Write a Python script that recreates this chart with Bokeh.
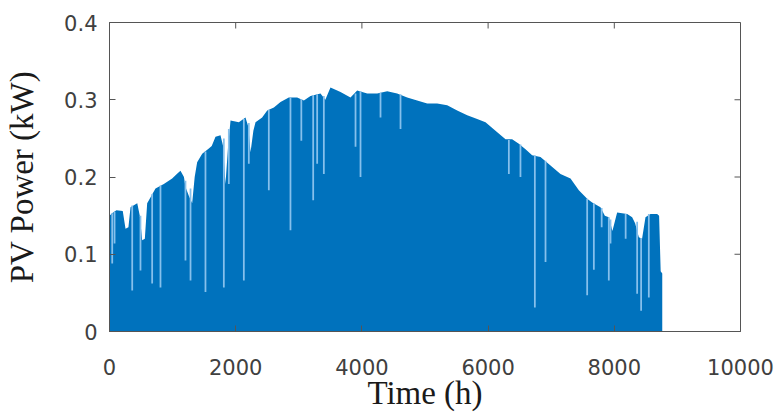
import math
from bokeh.plotting import figure
from bokeh.models import Range1d, FixedTicker, NumeralTickFormatter, ColumnDataSource
from bokeh.embed import file_html
from bokeh.resources import INLINE

# Envelope of hourly PV power (upper contour of the dense bars)
env_hours = [0, 40, 110, 210, 254, 300, 333, 440, 480, 518, 560, 597, 660, 729, 861, 993,
             1080, 1125, 1180, 1204, 1260, 1310, 1350, 1389, 1469, 1574, 1620, 1680, 1759,
             1800, 1838, 1880, 1918, 2050, 2155, 2200, 2235, 2280, 2314, 2419, 2499, 2605,
             2710, 2842, 2974, 3080, 3185, 3344, 3420, 3502, 3661, 3819, 3925, 4084, 4242,
             4401, 4559, 4718, 4876, 5035, 5193, 5352, 5510, 5669, 5827, 5959, 6117, 6276,
             6381, 6487, 6593, 6698, 6830, 6989, 7147, 7306, 7438, 7570, 7649, 7781, 7850,
             7913, 7970, 8045, 8204, 8283, 8330, 8389, 8440, 8494, 8573, 8679, 8710, 8735, 8760]
env_kw = [0.150, 0.153, 0.157, 0.156, 0.133, 0.135, 0.161, 0.166, 0.150, 0.118, 0.120, 0.166,
          0.175, 0.185, 0.191, 0.198, 0.205, 0.208, 0.200, 0.187, 0.175, 0.166, 0.200, 0.219,
          0.230, 0.237, 0.240, 0.252, 0.254, 0.240, 0.191, 0.240, 0.273, 0.271, 0.277, 0.265,
          0.232, 0.260, 0.271, 0.277, 0.286, 0.290, 0.297, 0.303, 0.303, 0.299, 0.305, 0.308,
          0.300, 0.316, 0.310, 0.303, 0.312, 0.308, 0.308, 0.311, 0.308, 0.303, 0.299, 0.295,
          0.295, 0.293, 0.286, 0.280, 0.275, 0.271, 0.260, 0.249, 0.249, 0.243, 0.236, 0.228,
          0.226, 0.215, 0.204, 0.198, 0.183, 0.172, 0.167, 0.161, 0.150, 0.148, 0.130, 0.154,
          0.152, 0.148, 0.140, 0.122, 0.120, 0.148, 0.152, 0.152, 0.150, 0.078, 0.075]

# Cloudy-day dips (narrow light strips): hour, lowest value, top of strip
dip_hours = [43, 80, 360, 491, 676, 808, 1204, 1284, 1521, 1812, 1891, 2129, 2208, 2525,
             2868, 3040, 3228, 3291, 3397, 3899, 3978, 4295, 4612, 6329, 6513, 6741, 6910,
             7570, 7676, 7800, 7913, 7940, 8180, 8362, 8425, 8547]
dip_low = [0.088, 0.114, 0.053, 0.079, 0.062, 0.057, 0.092, 0.066, 0.051, 0.057, 0.191,
           0.066, 0.217, 0.183, 0.131, 0.247, 0.170, 0.217, 0.204, 0.239, 0.200, 0.277,
           0.262, 0.204, 0.200, 0.031, 0.090, 0.047, 0.080, 0.135, 0.066, 0.114, 0.120,
           0.049, 0.027, 0.044]
dip_high = [0.153, 0.155, 0.163, 0.150, 0.178, 0.189, 0.195, 0.185, 0.233, 0.250, 0.262,
            0.275, 0.270, 0.287, 0.303, 0.301, 0.306, 0.307, 0.305, 0.308, 0.311, 0.309,
            0.307, 0.248, 0.242, 0.228, 0.221, 0.172, 0.166, 0.160, 0.148, 0.145, 0.152,
            0.142, 0.121, 0.152]

x_ticks = [0, 2000, 4000, 6000, 8000, 10000]
y_ticks = [0, 0.1, 0.2, 0.3, 0.4]
x_max = 10000
y_max = 0.4

AX = "#555555"

p = figure(width=776, height=415, output_backend="svg", toolbar_location=None,
           x_range=Range1d(0, x_max), y_range=Range1d(0, y_max),
           min_border_left=109, min_border_right=36, min_border_top=22, min_border_bottom=84)
p.xgrid.visible = False
p.ygrid.visible = False
p.outline_line_color = AX
p.outline_line_width = 1
p.background_fill_color = "white"

env = ColumnDataSource(dict(h=env_hours, kw=env_kw))
p.varea(x="h", y1=0, y2="kw", source=env, fill_color="#0072BD")

dips = ColumnDataSource(dict(h=dip_hours, lo=dip_low, hi=dip_high))
p.vbar(x="h", bottom="lo", top="hi", width=28, source=dips, fill_color="#86c0ec", line_color=None)

# inward ticks on the top and right edges of the box
p.ray(x=x_ticks, y=[y_max] * len(x_ticks), length=6, length_units="screen",
      angle=-math.pi / 2, line_color=AX, line_width=1)
p.ray(x=[x_max] * len(y_ticks), y=y_ticks, length=6, length_units="screen",
      angle=math.pi, line_color=AX, line_width=1)

def style(ax, ticks):
    ax.ticker = FixedTicker(ticks=ticks)
    ax.axis_line_color = AX
    ax.major_tick_line_color = AX
    ax.major_tick_in = 6
    ax.major_tick_out = 0
    ax.minor_tick_line_color = None
    ax.major_label_text_font = "DejaVu Sans"
    ax.major_label_text_font_size = "21px"
    ax.major_label_text_color = "#404040"
    ax.axis_label_text_font = "Liberation Serif"
    ax.axis_label_text_font_style = "normal"
    ax.axis_label_text_font_size = "33px"
    ax.axis_label_text_color = "#1a1a1a"

xa = p.xaxis[0]
style(xa, x_ticks)
xa.axis_label = "Time (h)"
xa.major_label_standoff = 27
xa.axis_label_standoff = -3

ya = p.yaxis[0]
style(ya, y_ticks)
ya.formatter = NumeralTickFormatter(format="0.[0]")
ya.axis_label = "PV Power (kW)"
ya.major_label_standoff = 12
ya.axis_label_standoff = 21

open("out.html", "w").write(file_html(p, INLINE))
